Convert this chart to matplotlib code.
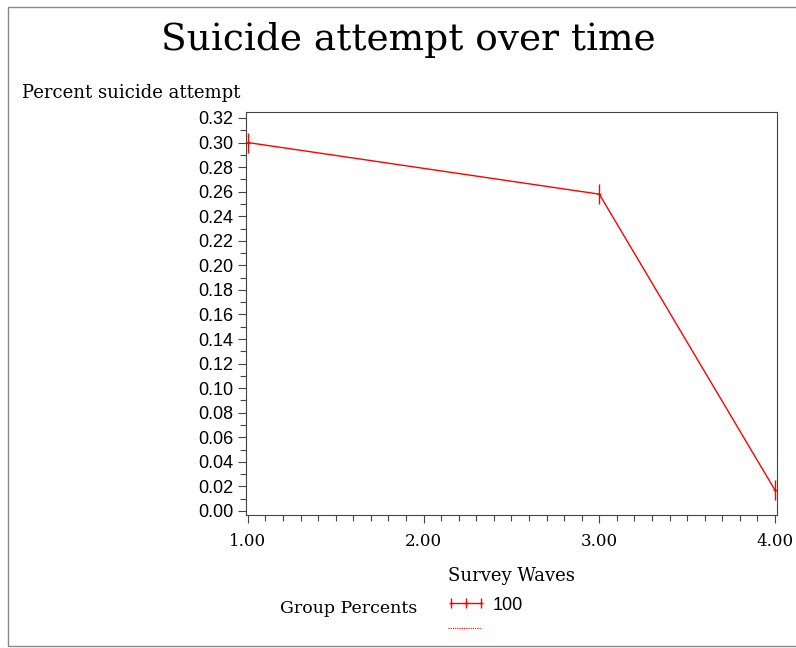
import matplotlib
matplotlib.use('Agg')
import matplotlib.pyplot as plt
from matplotlib.lines import Line2D
from matplotlib.patches import Rectangle
from matplotlib.path import Path
from matplotlib.ticker import MultipleLocator, FormatStrFormatter

# Data
waves = [1.0, 3.0, 4.0]
pct_attempt = [0.300, 0.258, 0.017]
group_label = '100'

serif = 'DejaVu Serif'
sans = 'Liberation Sans'

# SAS-style plus: tall vertical stroke, short horizontal arm
plus_mark = Path([(0, -1), (0, 1), (-0.25, 0), (0.25, 0)],
                 [Path.MOVETO, Path.LINETO, Path.MOVETO, Path.LINETO])

fig = plt.figure(figsize=(7.96, 6.48), dpi=100)
ax = fig.add_axes([0.309, 0.2052, 0.667, 0.622])

ax.plot(waves, pct_attempt, color='red', linewidth=1.0,
        marker=plus_mark, markersize=14, markeredgewidth=1.0)

ax.set_xlim(0.989, 4.011)
ax.set_ylim(-0.0033, 0.3249)

ax.xaxis.set_major_locator(MultipleLocator(1.0))
ax.xaxis.set_minor_locator(MultipleLocator(0.1))
ax.yaxis.set_major_locator(MultipleLocator(0.02))
ax.yaxis.set_minor_locator(MultipleLocator(0.01))
ax.xaxis.set_major_formatter(FormatStrFormatter('%.2f'))
ax.yaxis.set_major_formatter(FormatStrFormatter('%.2f'))

ax.tick_params(which='major', direction='out', length=6, width=0.8, color='#444444')
ax.tick_params(which='minor', direction='out', length=4, width=0.8, color='#444444')
ax.tick_params(axis='x', pad=7)
ax.tick_params(axis='y', pad=3)
for lbl in ax.get_xticklabels():
    lbl.set_fontfamily(serif)
    lbl.set_fontsize(12)
for lbl in ax.get_yticklabels():
    lbl.set_fontfamily(sans)
    lbl.set_fontsize(13)
for sp in ax.spines.values():
    sp.set_color('#444444')
    sp.set_linewidth(0.8)

# Titles and labels
fig.text(0.513, 0.938, 'Suicide attempt over time', ha='center', va='center',
         fontsize=27, family=serif)
fig.text(0.028, 0.856, 'Percent suicide attempt', ha='left', va='center',
         fontsize=13, family=serif)
fig.text(0.642, 0.111, 'Survey Waves', ha='center', va='center',
         fontsize=13, family=serif)

# Legend
fig.text(0.352, 0.061, 'Group Percents', ha='left', va='center',
         fontsize=12.5, family=serif)
leg_mark = Path([(0, -1), (0, 1), (-0.5, 0), (0.5, 0)],
                [Path.MOVETO, Path.LINETO, Path.MOVETO, Path.LINETO])
fig.legend(handles=[Line2D([], [], color='red', linewidth=1.0, marker=leg_mark,
                           markersize=7, markeredgewidth=1.0)],
           labels=[group_label], numpoints=3, frameon=False,
           loc='center left', bbox_to_anchor=(0.548, 0.066),
           handlelength=2.3, handletextpad=0.3, borderpad=0,
           prop={'family': sans, 'size': 13})
fig.add_artist(Line2D([0.563, 0.604], [0.031, 0.031], transform=fig.transFigure,
                      color='red', linewidth=0.8, linestyle=(0, (1, 1))))

# Outer frame
fig.add_artist(Rectangle((0.010, 0.003), 0.995, 0.986, transform=fig.transFigure,
                         fill=False, edgecolor='#888888', linewidth=1.0))

fig.savefig('out.png', dpi=100)
